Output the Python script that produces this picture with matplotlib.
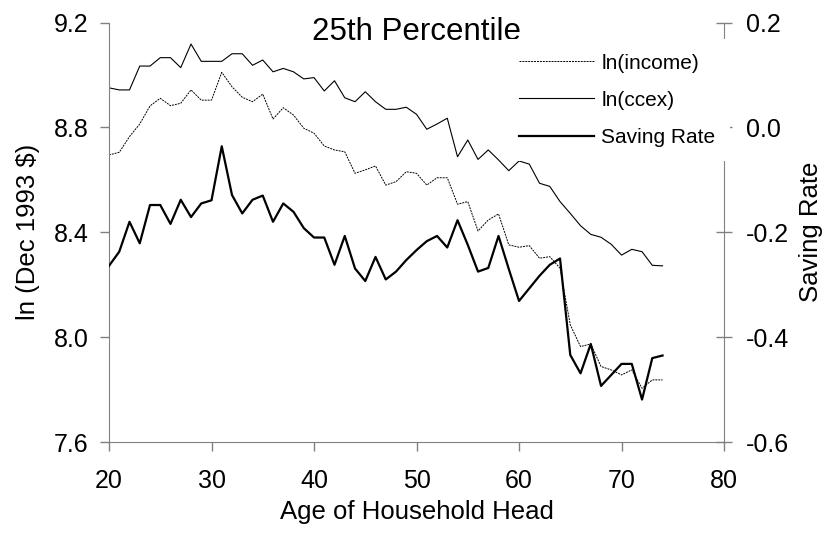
import matplotlib
matplotlib.use("Agg")
import matplotlib.pyplot as plt
from matplotlib.ticker import FormatStrFormatter

plt.rcParams['font.family'] = ['Liberation Sans', 'DejaVu Sans']

ages = list(range(20, 75))

ln_income = [8.695, 8.705, 8.765, 8.813, 8.882, 8.911, 8.883, 8.892, 8.943, 8.904,
             8.904, 9.010, 8.955, 8.915, 8.898, 8.927, 8.832, 8.875, 8.847, 8.797,
             8.778, 8.729, 8.714, 8.707, 8.625, 8.638, 8.653, 8.580, 8.593, 8.631,
             8.625, 8.580, 8.608, 8.608, 8.507, 8.517, 8.405, 8.447, 8.470, 8.352,
             8.343, 8.349, 8.301, 8.307, 8.263, 8.047, 7.964, 7.974, 7.888, 7.875,
             7.856, 7.875, 7.805, 7.837, 7.837]

ln_ccex = [8.951, 8.943, 8.943, 9.034, 9.034, 9.066, 9.066, 9.028, 9.118, 9.052,
           9.052, 9.052, 9.081, 9.081, 9.037, 9.057, 9.012, 9.025, 9.012, 8.985,
           8.990, 8.939, 8.978, 8.913, 8.898, 8.936, 8.898, 8.869, 8.869, 8.877,
           8.850, 8.793, 8.813, 8.835, 8.688, 8.752, 8.678, 8.714, 8.676, 8.635,
           8.672, 8.660, 8.587, 8.575, 8.517, 8.472, 8.425, 8.392, 8.381, 8.354,
           8.313, 8.335, 8.326, 8.274, 8.272]

saving_rate = [-0.264, -0.237, -0.180, -0.221, -0.148, -0.148, -0.184, -0.138, -0.171, -0.145,
               -0.139, -0.036, -0.129, -0.164, -0.138, -0.130, -0.180, -0.145, -0.161, -0.192,
               -0.210, -0.210, -0.262, -0.207, -0.269, -0.293, -0.247, -0.290, -0.275, -0.253,
               -0.234, -0.217, -0.207, -0.229, -0.177, -0.224, -0.275, -0.268, -0.207, -0.270,
               -0.331, -0.307, -0.283, -0.262, -0.250, -0.434, -0.469, -0.413, -0.493, -0.472,
               -0.451, -0.451, -0.519, -0.440, -0.435]

x_ticks = [20, 30, 40, 50, 60, 70, 80]
left_ticks = [7.6, 8.0, 8.4, 8.8, 9.2]
right_ticks = [-0.6, -0.4, -0.2, 0.0, 0.2]

gray = '#808080'

fig = plt.figure(figsize=(8.27, 5.38), dpi=100)
ax = fig.add_axes([0.1318, 0.1784, 0.7437, 0.7797])
ax2 = ax.twinx()

l1, = ax.plot(ages, ln_income, color='black', lw=0.7, linestyle=(0, (2, 1)))
l2, = ax.plot(ages, ln_ccex, color='black', lw=0.8)
l3, = ax2.plot(ages, saving_rate, color='black', lw=1.6)

ax.set_xlim(20, 80)
ax.set_ylim(7.6, 9.2)
ax2.set_ylim(-0.6, 0.2)
ax.set_xticks(x_ticks)
ax.set_yticks(left_ticks)
ax2.set_yticks(right_ticks)
ax.yaxis.set_major_formatter(FormatStrFormatter('%.1f'))
ax2.yaxis.set_major_formatter(FormatStrFormatter('%.1f'))

for s in ['top', 'right']:
    ax.spines[s].set_visible(False)
for s in ['top', 'left', 'bottom']:
    ax2.spines[s].set_visible(False)
for s in ['left', 'bottom']:
    ax.spines[s].set_color(gray)
ax2.spines['right'].set_color(gray)

ax.tick_params(axis='both', direction='out', length=6.5, width=1, color=gray,
               labelsize=18, pad=8)
ax.tick_params(axis='x', pad=13)
ax2.tick_params(axis='y', direction='inout', length=11.5, width=1, color=gray,
                labelsize=18, pad=10)

ax.text(0.5, 0.978, '25th Percentile', transform=ax.transAxes, ha='center',
        va='center', fontsize=22.5)
ax.set_xlabel('Age of Household Head', fontsize=18.5, labelpad=5)
ax.set_ylabel('ln (Dec 1993 $)', fontsize=18.5, labelpad=10)
ax2.set_ylabel('Saving Rate', fontsize=18.5, labelpad=7)

# white box, no border: hides the right spine behind the legend
leg = ax2.legend([l1, l2, l3], ['ln(income)', 'ln(ccex)', 'Saving Rate'],
                 loc='upper right', bbox_to_anchor=(730 / 827, 1 - 39 / 538),
                 bbox_transform=fig.transFigure, fontsize=15, frameon=True,
                 fancybox=False, facecolor='white', edgecolor='none',
                 framealpha=1, handlelength=3.6, handletextpad=0.35,
                 labelspacing=0.87, borderpad=0.7, borderaxespad=0)

fig.savefig('out.png', dpi=100)
